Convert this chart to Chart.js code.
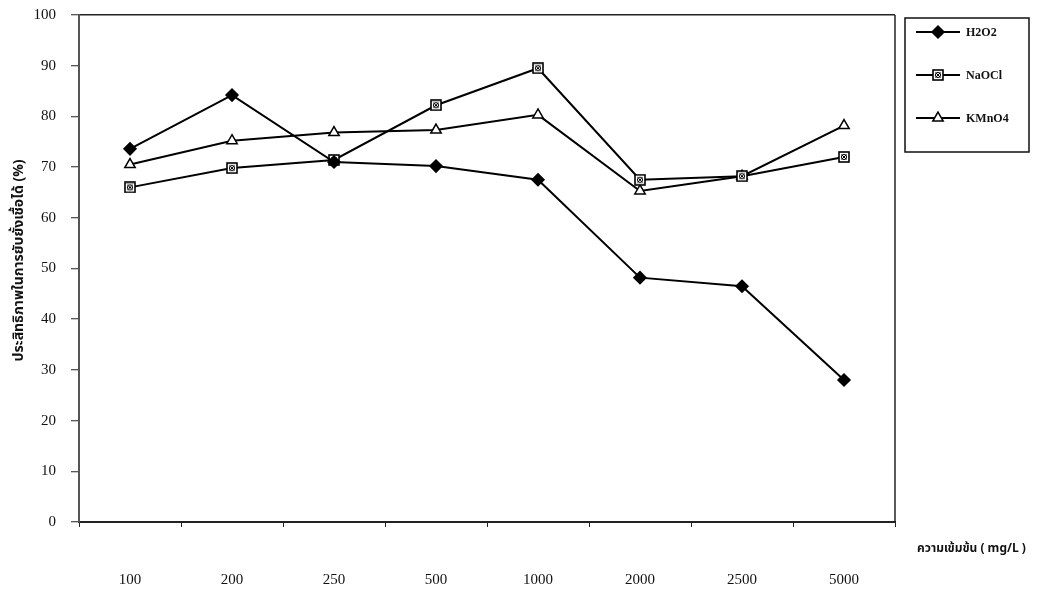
<!DOCTYPE html>
<html>
<head>
<meta charset="utf-8">
<script src="https://cdn.jsdelivr.net/npm/chart.js@4.4.1/dist/chart.umd.min.js"></script>
<style>
  html, body { margin: 0; padding: 0; background: #ffffff; }
  #wrap { width: 1042px; height: 591px; }
</style>
</head>
<body>
<div id="wrap"><canvas id="c" width="1042" height="591"></canvas></div>
<script>
// Concentrations (mg/L) on the category axis
const concentrations = ['100', '200', '250', '500', '1000', '2000', '2500', '5000'];

// Inhibition efficiency (%) for each disinfectant
const h2o2Values  = [73.6, 84.2, 71.0, 70.2, 67.5, 48.2, 46.5, 28.0];
const naoclValues = [66.0, 69.8, 71.4, 82.2, 89.5, 67.5, 68.2, 72.0];
const kmno4Values = [70.5, 75.2, 76.8, 77.3, 80.3, 65.3, 68.2, 78.2];

const seriesNames = ['H2O2', 'NaOCl', 'KMnO4'];
const yAxisTitle = 'ประสิทธิภาพในการยับยั้งเชื้อได้ (%)';
const xAxisTitle = 'ความเข้มข้น ( mg/L )';

const SERIF = '"Liberation Serif", "Times New Roman", "DejaVu Serif", serif';
const THAI = '"Noto Sans Thai", "Noto Serif Thai", "Loma", "Garuda", "Noto Sans", "DejaVu Sans", sans-serif';

// Square marker with a small crossed circle inside
function makeSquareMarker() {
  const s = 12;
  const cv = document.createElement('canvas');
  cv.width = s; cv.height = s;
  const g = cv.getContext('2d');
  g.fillStyle = '#ffffff';
  g.fillRect(1, 1, s - 2, s - 2);
  g.strokeStyle = '#000000';
  g.lineWidth = 1.6;
  g.strokeRect(1, 1, s - 2, s - 2);
  g.lineWidth = 1;
  g.beginPath();
  g.arc(s / 2, s / 2, 2.6, 0, Math.PI * 2);
  g.stroke();
  g.beginPath();
  g.moveTo(3.5, 3.5); g.lineTo(s - 3.5, s - 3.5);
  g.moveTo(s - 3.5, 3.5); g.lineTo(3.5, s - 3.5);
  g.stroke();
  return cv;
}
const squareMarker = makeSquareMarker();

const lineBase = {
  borderColor: '#000000',
  borderWidth: 2,
  tension: 0,
  fill: false,
  pointBorderColor: '#000000',
  pointBorderWidth: 1.5
};

const datasets = [
  Object.assign({}, lineBase, {
    label: seriesNames[0], data: h2o2Values,
    pointStyle: 'rectRot', pointRadius: 6, pointHoverRadius: 6,
    pointBackgroundColor: '#000000'
  }),
  Object.assign({}, lineBase, {
    label: seriesNames[1], data: naoclValues,
    pointStyle: squareMarker, pointRadius: 6, pointHoverRadius: 6,
    pointBackgroundColor: '#ffffff'
  }),
  Object.assign({}, lineBase, {
    label: seriesNames[2], data: kmno4Values,
    pointStyle: 'triangle', pointRadius: 6, pointHoverRadius: 6,
    pointBackgroundColor: '#ffffff'
  })
];

// Frame, axis titles and boxed legend
const decorations = {
  id: 'decorations',
  afterDraw(chart) {
    const { ctx, chartArea } = chart;
    ctx.save();

    // right frame line
    ctx.strokeStyle = '#222222';
    ctx.lineWidth = 1.5;
    ctx.beginPath();
    ctx.moveTo(chartArea.right, chartArea.top);
    ctx.lineTo(chartArea.right, chartArea.bottom);
    ctx.stroke();

    // y axis title (rotated)
    ctx.fillStyle = '#111111';
    ctx.font = 'bold 14px ' + THAI;
    ctx.textAlign = 'center';
    ctx.textBaseline = 'middle';
    ctx.translate(20, (chartArea.top + chartArea.bottom) / 2 - 8);
    ctx.rotate(-Math.PI / 2);
    ctx.fillText(yAxisTitle, 0, 0);
    ctx.setTransform(1, 0, 0, 1, 0, 0);

    // x axis title at the right end
    ctx.font = 'bold 12px ' + THAI;
    ctx.textAlign = 'left';
    ctx.fillText(xAxisTitle, chartArea.right + 22, 550);

    // legend box
    const bx = chartArea.right + 10, by = 18, bw = 124, bh = 134;
    ctx.strokeStyle = '#111111';
    ctx.lineWidth = 1.5;
    ctx.strokeRect(bx, by, bw, bh);

    const rowY = [32, 75, 118];
    chart.data.datasets.forEach((ds, i) => {
      const y = rowY[i];
      ctx.strokeStyle = '#000000';
      ctx.lineWidth = 2;
      ctx.beginPath();
      ctx.moveTo(bx + 11, y);
      ctx.lineTo(bx + 55, y);
      ctx.stroke();

      ctx.fillStyle = ds.pointBackgroundColor;
      ctx.strokeStyle = '#000000';
      ctx.lineWidth = ds.pointBorderWidth;
      Chart.helpers.drawPoint(ctx, {
        pointStyle: ds.pointStyle,
        radius: ds.pointRadius,
        rotation: 0,
        borderWidth: ds.pointBorderWidth
      }, bx + 33, y);

      ctx.fillStyle = '#111111';
      ctx.font = 'bold 12px ' + SERIF;
      ctx.textAlign = 'left';
      ctx.textBaseline = 'middle';
      ctx.fillText(ds.label, bx + 61, y + 1);
    });
    ctx.restore();
  }
};

new Chart(document.getElementById('c'), {
  type: 'line',
  data: { labels: concentrations, datasets },
  options: {
    responsive: false,
    animation: false,
    devicePixelRatio: 1,
    layout: { padding: { top: 15, right: 147, left: 0, bottom: 0 } },
    plugins: { legend: { display: false }, tooltip: { enabled: false } },
    scales: {
      x: {
        type: 'category',
        offset: true,
        grid: {
          offset: true,
          drawOnChartArea: false,
          tickLength: 5,
          tickColor: '#222222',
          tickWidth: 1
        },
        border: { color: '#222222', width: 2 },
        ticks: {
          padding: 44,
          color: '#111111',
          font: { family: SERIF, size: 15 },
          maxRotation: 0,
          autoSkip: false
        },
        afterFit(scale) {
          scale.height = 69;
          scale.paddingLeft = 0;
          scale.paddingRight = 0;
        }
      },
      y: {
        min: 0,
        max: 100,
        grid: {
          drawOnChartArea: true,
          color: (c) => (c.tick && c.tick.value === 100 ? '#222222' : 'rgba(0,0,0,0)'),
          lineWidth: 1.5,
          tickLength: 8,
          tickColor: '#222222',
          tickWidth: 1
        },
        border: { color: '#555555', width: 2 },
        ticks: {
          stepSize: 10,
          padding: 15,
          color: '#111111',
          font: { family: SERIF, size: 15 }
        },
        afterFit(scale) {
          scale.width = 79;
          scale.paddingTop = 0;
          scale.paddingBottom = 0;
        }
      }
    }
  },
  plugins: [decorations]
});
</script>
</body>
</html>
